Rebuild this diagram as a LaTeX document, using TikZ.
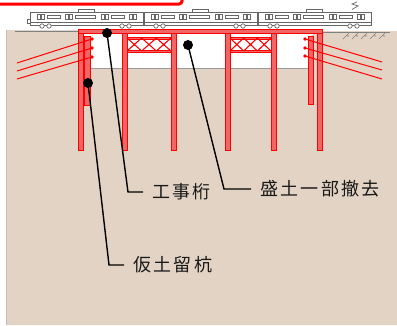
\documentclass[tikz,border=0pt]{standalone}
\usepackage{fontspec}
\newfontfamily\jpfont[LetterSpace=13]{Noto Sans CJK JP}
\definecolor{soil}{HTML}{E3D3C4}
\definecolor{steelfill}{HTML}{F06666}
\definecolor{cargray}{HTML}{666666}

\begin{document}
\begin{tikzpicture}[x=1pt,y=-1pt]
	\tikzstyle{every node}=[font=\jpfont\fontsize{18}{18}\selectfont]
	\tikzstyle{member}=[draw=red, fill=steelfill, line width=0.8pt]
	\tikzstyle{brace}=[red, line width=1.1pt]
	\tikzstyle{tieback}=[red, line width=1pt]
	\tikzstyle{traincar}=[draw=cargray, fill=white, line width=0.7pt]
	\tikzstyle{callout}=[black, line width=1.4pt]
	\tikzstyle{calldot}=[circle, fill=black, inner sep=0pt, minimum size=10pt]
	\tikzstyle{callouttext}=[anchor=west, inner xsep=9pt, inner ysep=0pt, text=black!90]
	
	\useasboundingbox (0,0) rectangle (397,325);
	
	% ground with the excavated part
	\fill [soil] (6,30) -- (80,30) -- (80,68) -- (310,68) -- (310,37) -- (317,31) -- (397,31) -- (397,325) -- (6,325) -- cycle;
	\draw [gray!50] (6,30) -- (6,325);
	\draw [gray] (15,31) -- (80,31);
	\draw [gray!80] (80,68) -- (310,68);
	\draw [gray] (318,32) -- (390,32);
	\foreach \x in {343,352,...,379}
		\draw [gray, line width=0.6pt] (\x,39) -- (\x+6,33) (\x+4,36) -- (\x+6,36);
	
	% frame cut off at the top
	\draw [red, line width=3pt, rounded corners=3pt] (-10,-20) rectangle (182,4);
	
	% trains
	\foreach \cx in {30,144,258} {
	\begin{scope}[shift={(\cx,0)}]
	\draw [traincar] (48,9.5) rectangle (64,12);
	\draw [traincar] (0,12) rectangle (113,25);
	\draw [cargray, line width=0.5pt] (0,22) -- (113,22);
	\foreach \d in {7,35,71,99} {
		\draw [cargray, line width=0.6pt] (\d,14) rectangle (\d+3,19) (\d+4,14) rectangle (\d+7,19);
	}
	\foreach \w/\l in {17/13, 45/20, 81/13} {
		\draw [cargray, line width=0.8pt] (\w,15) rectangle (\w+\l,18);
	}
	\foreach \wx in {12,19,92,99} {
		\draw [cargray, fill=white, line width=0.7pt] (\wx,26) circle (2.2pt);
	}
	\end{scope}
	}
	\draw [cargray, line width=0.6pt] (30,19) -- (27,19) -- (27,23) -- (30,23);
	\draw [cargray, line width=0.7pt] (352,9.5) -- (358,6) -- (352,4) -- (357,2);
	
	% construction girder and columns
	\draw [member] (78,29) rectangle (322,33);
	\foreach \x in {78,122,171,225,271,317} {
		\draw [member] (\x,33) rectangle (\x+5,150);
	}
	
	% cross bracing
	\foreach \bx/\bw in {127/44, 230/41} {
	\begin{scope}[shift={(\bx,0)}]
	\draw [member, line width=0.6pt] (0,37) rectangle (\bw,39);
	\draw [member, line width=0.6pt] (0,50) rectangle (\bw,52);
	\foreach \i in {0,1,2} {
		\draw [brace] (\i*\bw/3,38) -- (\i*\bw/3+\bw/3,51) (\i*\bw/3,51) -- (\i*\bw/3+\bw/3,38);
		\fill [red] (\i*\bw/3+\bw/6,44.5) circle (1pt);
	}
	\end{scope}
	}
	
	% temporary retaining piles with tiebacks
	\draw [member] (84,36) rectangle (90,105);
	\draw [member] (308,36) rectangle (313,104);
	\foreach \ay/\by in {39/63, 48/71, 57/79} {
		\draw [tieback] (92,\ay) -- (17,\by);
		\fill [red] (92,\ay) circle (1.8pt);
	}
	\foreach \ay/\by in {39/62, 48/70, 56/79} {
		\draw [tieback] (305,\ay) -- (382,\by);
		\fill [red] (305,\ay) circle (1.8pt);
	}
	
	% callouts
	\node [calldot] (girderdot) at (107,33) {};
	\node [calldot] (piledot) at (88,83) {};
	\node [calldot] (filldot) at (188,45) {};
	\node [callouttext] (girdertext) at (143,192) {工事桁};
	\node [callouttext] (piletext) at (124,265) {仮土留杭};
	\node [callouttext] (filltext) at (251,189) {盛土一部撤去};
	\coordinate (girderbend) at (128,192);
	\coordinate (pilebend) at (109,265);
	\coordinate (fillbend) at (224,189);
	\draw [callout] (girderdot.center) -- (girderbend) -- (girdertext.west);
	\draw [callout] (piledot.center) -- (pilebend) -- (piletext.west);
	\draw [callout] (filldot.center) -- (fillbend) -- (filltext.west);
	
\end{tikzpicture}
\end{document}
